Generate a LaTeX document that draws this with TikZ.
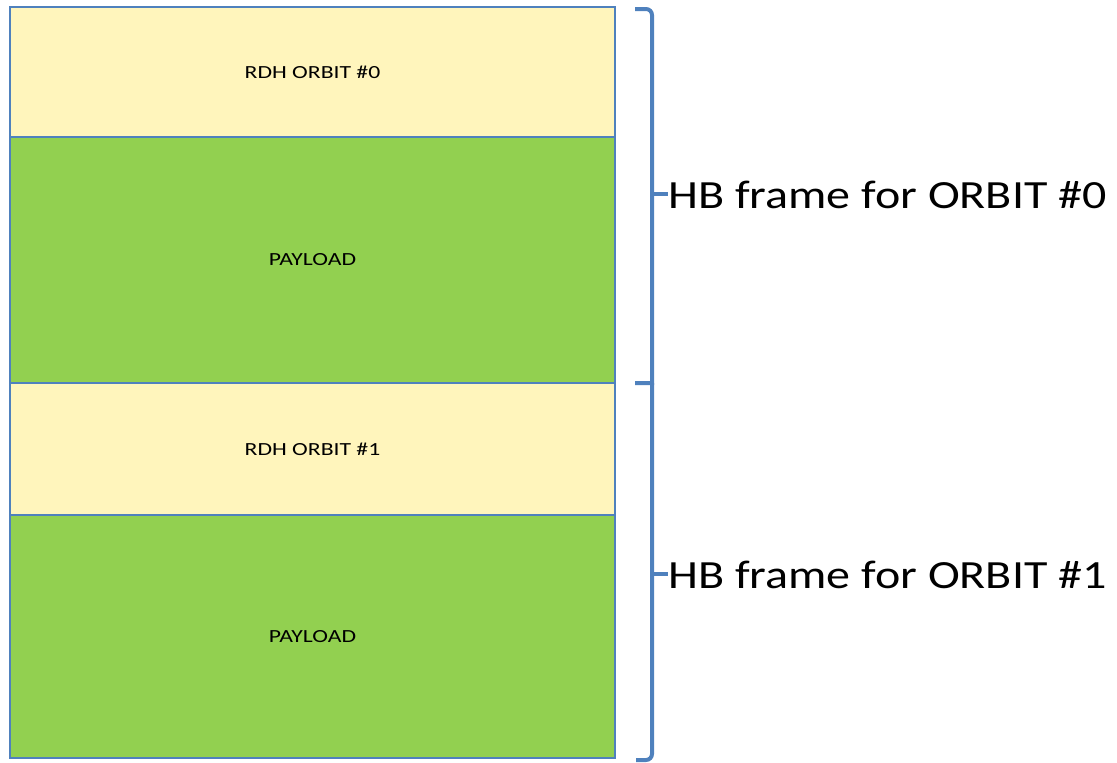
\documentclass[tikz,border=0pt]{standalone}
\usepackage{graphicx}
\usepackage{fontspec}
\setmainfont{Carlito}
\definecolor{rdhyellow}{HTML}{FFF5BC}
\definecolor{payloadgreen}{HTML}{92D050}
\definecolor{edgeblue}{HTML}{4F81BD}
\newcommand{\widesmall}[1]{\scalebox{1.28}[1]{#1}}
\newcommand{\widelarge}[1]{\scalebox{1.2}[1]{#1}}
\begin{document}
\begin{tikzpicture}[x=1pt,y=-1pt,
  block/.style={draw=edgeblue,line width=2pt,minimum width=605pt,inner sep=0pt,
    font=\fontsize{18.5}{20}\selectfont},
  rdh/.style={block,fill=rdhyellow},
  payload/.style={block,fill=payloadgreen},
  brace/.style={draw=edgeblue,line width=4pt,line cap=butt,line join=miter},
  framelabel/.style={anchor=base west,inner sep=0pt,font=\fontsize{40}{44}\selectfont}]
\useasboundingbox (0,0) rectangle (1117,763);
% stacked frame blocks
\node[rdh,minimum height=130pt]     (r0) at (312.5,72)    {\widesmall{RDH ORBIT \#0}};
\node[payload,minimum height=246pt] (p0) at (312.5,260)   {\widesmall{PAYLOAD}};
\node[rdh,minimum height=132pt]     (r1) at (312.5,449)   {\widesmall{RDH ORBIT \#1}};
\node[payload,minimum height=243pt] (p1) at (312.5,636.5) {\widesmall{PAYLOAD}};
% frame labels
\node[framelabel] (l0) at (668,208) {\widelarge{HB frame for ORBIT \#0}};
\node[framelabel] (l1) at (668,588) {\widelarge{HB frame for ORBIT \#1}};
% braces
\coordinate (b0) at (652,194);
\coordinate (b1) at (652,574);
\draw[brace] (635,9) -- (646,9) arc[start angle=90,end angle=0,radius=6pt] -- (652,383) -- (635,383);
\draw[brace] (652,383) -- (652,754) arc[start angle=0,end angle=-90,radius=6pt] -- (636,760);
\draw[brace] (b0) -- (l0.west |- b0);
\draw[brace] (b1) -- (l1.west |- b1);
\end{tikzpicture}
\end{document}
